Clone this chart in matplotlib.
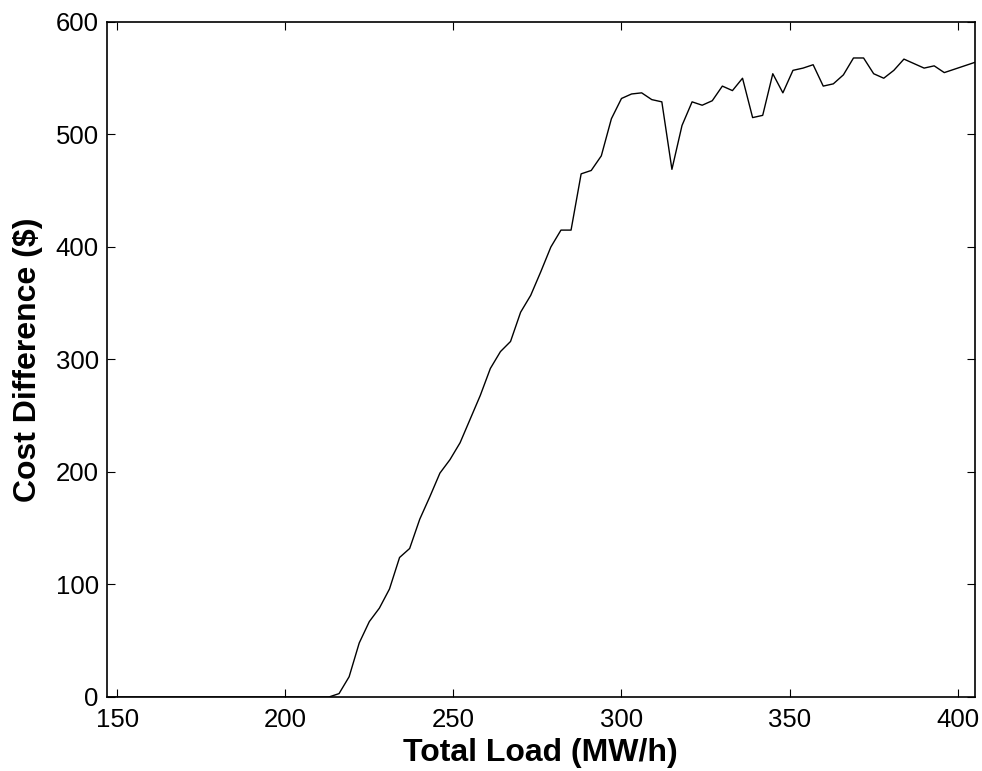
import numpy as np
import matplotlib
matplotlib.use("Agg")
import matplotlib.pyplot as plt

plt.rcParams['font.family'] = ['Liberation Sans', 'DejaVu Sans']

# Total load (MW/h), one sample every 3 MW/h
load = np.arange(147, 406, 3)

# Cost difference ($)
cost = [0, 0, 0, 0, 0, 0, 0, 0, 0, 0,
        0, 0, 0, 0, 0, 0, 0, 0, 0, 0,
        0, 0, 0,
        3, 18, 48, 67, 79, 96, 124, 132, 158, 178,
        199, 211, 226, 247, 268, 292, 307, 316, 342, 357,
        378, 400, 415, 415, 465, 468, 481, 514, 532, 536,
        537, 531, 529, 469, 508, 529, 526, 530, 543, 539,
        550, 515, 517, 554, 537, 557, 559, 562, 543, 545,
        553, 568, 568, 554, 550, 557, 567, 563, 559, 561,
        555, 558, 561, 564]

fig = plt.figure(figsize=(9.82, 7.71), dpi=100)
ax = fig.add_axes([0.109, 0.096, 0.8834, 0.8755])

ax.plot(load, cost, color='black', linewidth=1.0)

ax.set_xlim(147, 405)
ax.set_ylim(0, 600)
ax.set_xticks([150, 200, 250, 300, 350, 400])
ax.set_yticks([0, 100, 200, 300, 400, 500, 600])

ax.tick_params(direction='in', length=6, width=0.8, labelsize=18.5,
               top=True, right=True)
ax.tick_params(axis='x', pad=8)
ax.tick_params(axis='y', pad=6)
for s in ax.spines.values():
    s.set_linewidth(1.2)

ax.set_xlabel('Total Load (MW/h)', fontsize=23, fontweight='bold', labelpad=4)
ax.set_ylabel('Cost Difference ($)', fontsize=23, fontweight='bold', labelpad=9)

fig.savefig('out.png', dpi=100)
